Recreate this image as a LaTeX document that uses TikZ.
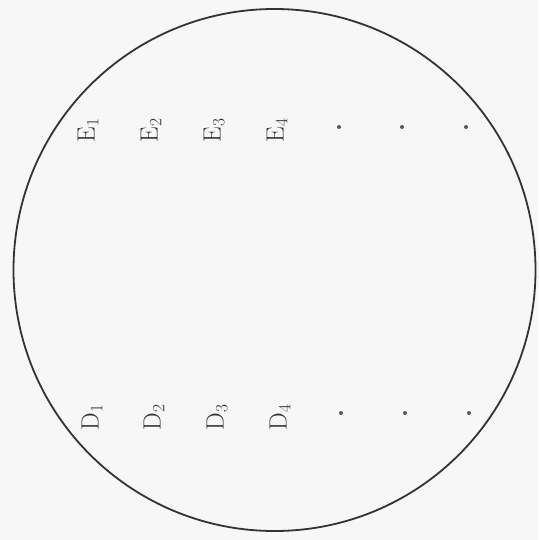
\documentclass[tikz,border=0pt]{standalone}
\begin{document}
\begin{tikzpicture}[x=1pt,y=-1pt,
  lbl/.style={rotate=90, font=\fontsize{25}{30}\selectfont, inner sep=0pt, text=black!80},
  pt/.style={circle, fill=black!65, inner sep=0pt, minimum size=4pt}]
\useasboundingbox (0,0) rectangle (539,540);
\fill[black!3] (0,0) rectangle (539,540);
\node[draw=black!80, line width=1.8pt, circle, minimum size=522pt, inner sep=0pt] (c) at (274.5,270) {};
\node[lbl] (e1) at (88,130) {$\mathrm{E}_1$};
\node[lbl] (e2) at (151,130) {$\mathrm{E}_2$};
\node[lbl] (e3) at (214,130) {$\mathrm{E}_3$};
\node[lbl] (e4) at (277,130) {$\mathrm{E}_4$};
\node[pt] (p1) at (339,127) {};
\node[pt] (p2) at (402,127) {};
\node[pt] (p3) at (466,127) {};
\node[lbl] (d1) at (92,417) {$\mathrm{D}_1$};
\node[lbl] (d2) at (154,417) {$\mathrm{D}_2$};
\node[lbl] (d3) at (217,417) {$\mathrm{D}_3$};
\node[lbl] (d4) at (280,417) {$\mathrm{D}_4$};
\node[pt] (q1) at (341,413) {};
\node[pt] (q2) at (405,413) {};
\node[pt] (q3) at (469,413) {};
\end{tikzpicture}
\end{document}
